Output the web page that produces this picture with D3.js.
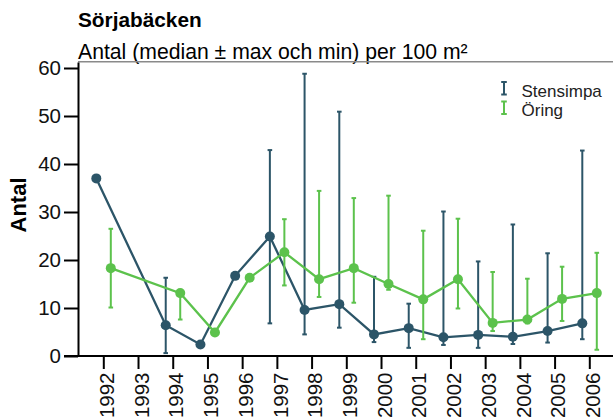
<!DOCTYPE html>
<html>
<head>
<meta charset="utf-8">
<script src="https://cdn.jsdelivr.net/npm/d3@7"></script>
<style>
    body { margin: 0; background: #fff; }
    svg { display: block; font-family: "Liberation Sans", Arial, sans-serif; }
</style>
</head>
<body>
<svg id="chart" width="613" height="417"></svg>
<script>
// data (null = no value / no error bar)
const years = [1992, 1993, 1994, 1995, 1996, 1997, 1998, 1999, 2000, 2001, 2002, 2003, 2004, 2005, 2006];
const stensimpaMed = [37.0, null, 6.4, 2.4, 16.7, 24.9, 9.6, 10.8, 4.5, 5.8, 3.9, 4.4, 4.0, 5.2, 6.8];
const stensimpaMax = [null, null, 16.3, null, null, 42.9, 58.8, 50.9, 16.5, 10.9, 30.1, 19.7, 27.4, 21.4, 42.8];
const stensimpaMin = [null, null, 0.6, null, null, 6.8, 4.5, 5.9, 2.9, 1.7, 2.3, 1.7, 2.5, 2.8, 3.5];
const oringMed = [18.3, null, 13.1, 4.9, 16.3, 21.6, 16.0, 18.3, 15.0, 11.8, 16.0, 6.9, 7.6, 11.9, 13.1];
const oringMax = [26.5, null, 13.4, null, null, 28.5, 34.4, 32.9, 33.4, 26.1, 28.6, 17.5, 16.1, 18.6, 21.5];
const oringMin = [10.1, null, 7.6, null, null, 14.7, 12.3, 11.1, 13.8, 3.5, 9.9, 5.2, 6.8, 7.3, 1.3];
const yTicks = [0, 10, 20, 30, 40, 50, 60];

const title = 'Sörjabäcken';
const subtitle = 'Antal (median ± max och min) per 100 m²';
const yLabel = 'Antal';

const series = [
    { name: 'Stensimpa', color: '#2c5568', offset: -7, med: stensimpaMed, max: stensimpaMax, min: stensimpaMin },
    { name: 'Öring', color: '#5cc24c', offset: 7.5, med: oringMed, max: oringMax, min: oringMin }
];

const svg = d3.select('#chart');
const plot = { left: 78, top: 62, bottom: 356, right: 613 };

const xScale = d3.scalePoint()
    .domain(years)
    .range([103.3, 589.3]);
const yScale = d3.scaleLinear()
    .domain([0, 61.25])
    .range([plot.bottom, plot.top]);

// titles
svg.append('text')
    .attr('x', plot.left).attr('y', 27)
    .attr('font-size', 20.8).attr('font-weight', 'bold')
    .text(title);
svg.append('text')
    .attr('x', plot.left).attr('y', 59)
    .attr('font-size', 21.2)
    .text(subtitle);

// top frame line
svg.append('line')
    .attr('x1', plot.left).attr('x2', plot.right)
    .attr('y1', plot.top - 0.3).attr('y2', plot.top - 0.3)
    .attr('stroke', '#8a8a8a').attr('stroke-width', 1.5);

// axes
const yAxis = d3.axisLeft(yScale).tickValues(yTicks).tickSize(14).tickSizeOuter(0).tickPadding(3);
const xAxis = d3.axisBottom(xScale).tickSize(13).tickSizeOuter(0);

const gy = svg.append('g')
    .attr('transform', 'translate(' + plot.left + ',0)')
    .call(yAxis);
gy.selectAll('text').attr('font-size', 20.5).attr('font-family', null).attr('fill', '#111');

const gx = svg.append('g')
    .attr('transform', 'translate(0,' + plot.bottom + ')')
    .call(xAxis);
gx.select('.domain').remove();
gx.append('line')
    .attr('x1', plot.left - 14).attr('x2', plot.right)
    .attr('stroke', '#000').attr('stroke-width', 2);
gx.selectAll('.tick text')
    .attr('font-size', 20.5).attr('font-family', null).attr('fill', '#111')
    .attr('text-anchor', 'end')
    .attr('x', -16.5).attr('y', 0).attr('dy', '0.5em')
    .attr('transform', 'rotate(-90)');

svg.selectAll('.domain, .tick line').attr('stroke', '#000').attr('stroke-width', 2);

// y label
svg.append('text')
    .attr('transform', 'translate(26,205) rotate(-90)')
    .attr('text-anchor', 'middle')
    .attr('font-size', 22).attr('font-weight', 'bold')
    .text(yLabel);

// series: error bars, line, points
series.forEach(s => {
    const pts = years.map((yr, i) => ({ yr: yr, v: s.med[i], hi: s.max[i], lo: s.min[i] }))
        .filter(d => d.v !== null);
    const px = d => xScale(d.yr) + s.offset;
    const g = svg.append('g');

    const bars = pts.filter(d => d.hi !== null);
    g.selectAll('.bar').data(bars).enter().append('line')
        .attr('x1', px).attr('x2', px)
        .attr('y1', d => yScale(d.hi)).attr('y2', d => yScale(d.lo))
        .attr('stroke', s.color).attr('stroke-width', 2);
    ['hi', 'lo'].forEach(k => {
        g.selectAll('.cap-' + k).data(bars).enter().append('line')
            .attr('x1', d => px(d) - 2.3).attr('x2', d => px(d) + 2.3)
            .attr('y1', d => yScale(d[k])).attr('y2', d => yScale(d[k]))
            .attr('stroke', s.color).attr('stroke-width', 2);
    });

    const line = d3.line().x(px).y(d => yScale(d.v));
    g.append('path')
        .attr('d', line(pts))
        .attr('fill', 'none')
        .attr('stroke', s.color).attr('stroke-width', 2.3);

    g.selectAll('circle').data(pts).enter().append('circle')
        .attr('cx', px).attr('cy', d => yScale(d.v))
        .attr('r', 5)
        .attr('fill', s.color);
});

// legend
const legend = svg.append('g').attr('transform', 'translate(504,82)');
series.forEach((s, i) => {
    const g = legend.append('g').attr('transform', 'translate(0,' + (i * 19.5) + ')');
    g.append('path')
        .attr('d', 'M-2.8,0H2.8M0,0V12.5M-2.8,12.5H2.8')
        .attr('fill', 'none')
        .attr('stroke', s.color).attr('stroke-width', 2);
    g.append('text')
        .attr('x', 17.5).attr('y', 14.5)
        .attr('font-size', 17).attr('fill', '#222')
        .text(s.name);
});
</script>
</body>
</html>
